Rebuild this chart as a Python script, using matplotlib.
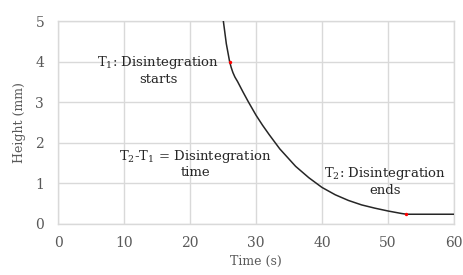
import matplotlib
matplotlib.use("Agg")
import matplotlib.pyplot as plt

plt.rcParams["font.family"] = ["DejaVu Serif"]
plt.rcParams["mathtext.fontset"] = "dejavuserif"

# Height of the sample over time.
time_s = [25.05, 25.5, 26.0, 26.25, 26.5, 26.8, 27.2, 28.0, 28.8, 30.0,
          31.0, 32.0, 33.6, 36.0, 38.0, 40.0, 42.0, 44.0, 46.0, 48.0,
          50.0, 52.0, 52.8, 60.0]
height_mm = [5.0, 4.44, 4.0, 3.85, 3.73, 3.62, 3.51, 3.26, 3.02, 2.68,
             2.43, 2.2, 1.85, 1.42, 1.14, 0.9, 0.72, 0.58, 0.47, 0.39,
             0.32, 0.26, 0.24, 0.24]

# Marked events: T1 (start) and T2 (end)
event_t = [26.0, 52.8]
event_h = [4.0, 0.24]

x_ticks = [0, 10, 20, 30, 40, 50, 60]
y_ticks = [0, 1, 2, 3, 4, 5]

GRID = "#d9d9d9"
TICK = "#595959"

fig = plt.figure(figsize=(4.63, 2.75), dpi=100)
ax = fig.add_axes([0.1253, 0.1855, 0.8553, 0.7381])

ax.plot(time_s, height_mm, color="#262626", lw=1.1, zorder=3)
ax.scatter(event_t, event_h, color="red", s=6, zorder=4, linewidths=0)

ax.set_xlim(0, 60)
ax.set_ylim(0, 5)
ax.set_xticks(x_ticks)
ax.set_yticks(y_ticks)
ax.grid(True, color=GRID, lw=1.0)
ax.set_axisbelow(True)
for s in ax.spines.values():
    s.set_color(GRID)
    s.set_linewidth(1.0)
ax.tick_params(length=0, colors=TICK, labelsize=10, pad=9)
ax.tick_params(axis="y", pad=10)

ax.set_xlabel("Time (s)", color=TICK, fontsize=9, labelpad=3)
ax.set_ylabel("Height (mm)", color=TICK, fontsize=9, labelpad=7)

txt = dict(ha="center", va="center", multialignment="center",
           fontsize=9.5, color="#262626", linespacing=1.15)
ax.text(15.2, 3.79, "T$_1$: Disintegration\nstarts", **txt)
ax.text(20.8, 1.49, "T$_2$-T$_1$ = Disintegration\ntime", **txt)
ax.text(49.6, 1.06, "T$_2$: Disintegration\nends", **txt)

fig.savefig("out.png", dpi=100)
